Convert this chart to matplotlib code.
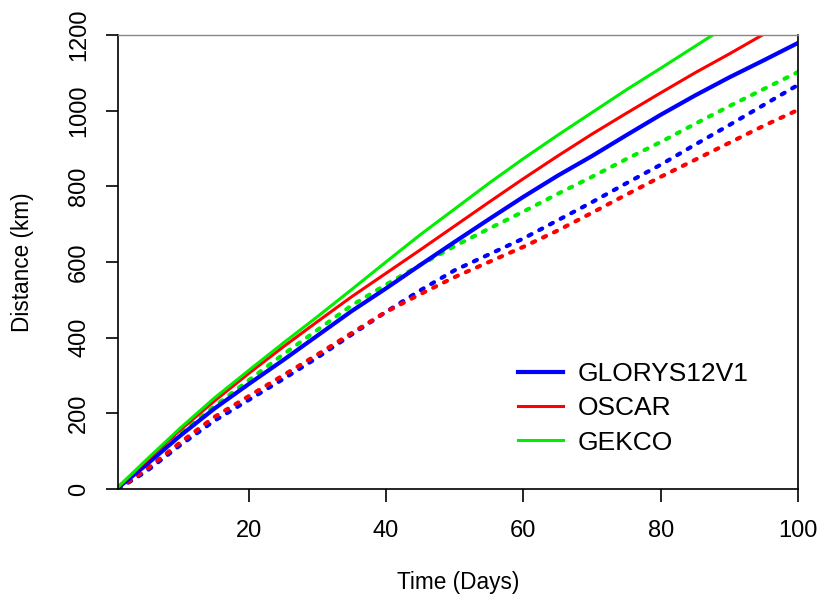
import matplotlib
matplotlib.use('Agg')
import matplotlib.pyplot as plt

plt.rcParams['font.family'] = ['Liberation Sans', 'DejaVu Sans']

# jours
jours = [1, 5, 10, 15, 20, 25, 30, 35, 40, 45, 50, 55, 60, 65, 70, 75, 80, 85, 90, 95, 100]

# lignes pleines (km)
glorys = [3, 62, 140, 212, 277, 340, 405, 470, 530, 592, 653, 713, 772, 828, 880, 935, 989, 1040, 1088, 1133, 1179]
oscar = [5, 72, 155, 232, 305, 375, 442, 508, 570, 632, 695, 758, 820, 880, 938, 993, 1047, 1100, 1150, 1202, 1255]
gekco = [5, 75, 160, 240, 313, 385, 455, 527, 600, 672, 740, 808, 873, 935, 995, 1055, 1112, 1170, 1228, 1285, 1340]

# lignes pointillées (km)
glorys_pt = [0, 45, 115, 180, 235, 290, 347, 408, 468, 525, 578, 620, 662, 710, 758, 808, 857, 910, 962, 1015, 1068]
oscar_pt = [0, 50, 122, 190, 245, 300, 355, 412, 468, 515, 560, 600, 640, 683, 730, 778, 825, 870, 915, 960, 1002]
gekco_pt = [3, 65, 145, 218, 287, 355, 420, 485, 540, 592, 642, 688, 733, 780, 825, 872, 917, 965, 1012, 1057, 1102]

noms = ['GLORYS12V1', 'OSCAR', 'GEKCO']
couleurs = ['#0000ff', '#ff0000', '#00ee00']

fig = plt.figure(figsize=(8.19, 5.99), dpi=100)
ax = fig.add_axes([118/819, 1 - 489/599, (798 - 118)/819, (489 - 35)/599])

pt_style = dict(lw=3, linestyle=(0, (0.8, 2.1)), dash_capstyle='round')
ax.plot(jours, glorys_pt, color=couleurs[0], **pt_style)
ax.plot(jours, oscar_pt, color=couleurs[1], **pt_style)
ax.plot(jours, gekco_pt, color=couleurs[2], **pt_style)

l1, = ax.plot(jours, glorys, color=couleurs[0], lw=3, label=noms[0])
l2, = ax.plot(jours, oscar, color=couleurs[1], lw=2.2, label=noms[1])
l3, = ax.plot(jours, gekco, color=couleurs[2], lw=2.2, label=noms[2])

ax.set_xlim(1, 100)
ax.set_ylim(0, 1200)
ax.set_xticks([20, 40, 60, 80, 100])
ax.set_yticks([0, 200, 400, 600, 800, 1000, 1200])

ax.tick_params(axis='both', direction='out', length=9, width=1.2, labelsize=17)
ax.tick_params(axis='x', pad=13)
ax.tick_params(axis='y', pad=11, labelrotation=90)
for lab in ax.get_yticklabels():
    lab.set_va('center')

for s in ['left', 'bottom', 'right']:
    ax.spines[s].set_linewidth(1.2)
    ax.spines[s].set_color('black')
ax.spines['top'].set_color('#888888')
ax.spines['top'].set_linewidth(1)

fig.text(0.5 * (118 + 798)/819, 1 - 582/599, 'Time (Days)', ha='center', va='center', fontsize=16.3)
fig.text(22/819, 1 - 262/599, 'Distance (km)', ha='center', va='center', rotation=90, fontsize=16.3)

ax.legend(handles=[l1, l2, l3], loc='upper left', frameon=False, fontsize=19,
          bbox_to_anchor=(518/819, 1 - 362/599), bbox_transform=fig.transFigure,
          borderpad=0, borderaxespad=0, handlelength=1.7, handletextpad=0.55,
          labelspacing=0.39)

plt.savefig('out.png', dpi=100)
